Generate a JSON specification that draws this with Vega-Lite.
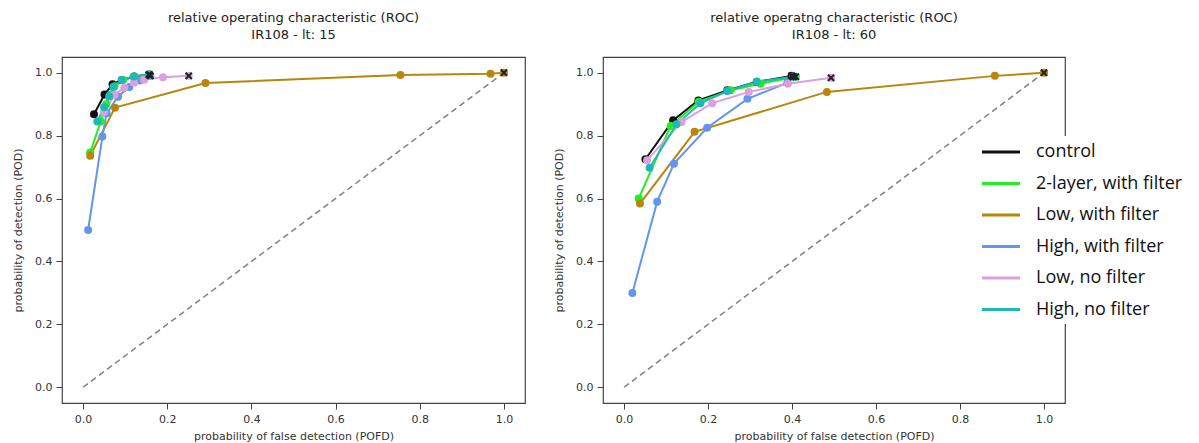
{
  "$schema": "https://vega.github.io/schema/vega-lite/v6.json",
  "padding": {"left": 11, "top": 11, "right": 0, "bottom": 0},
  "background": "white",
  "datasets": {
    "diag": [{"pofd": 0, "pod": 0}, {"pofd": 1, "pod": 1}],
    "roc": [
      {"panel": 15, "series": "control", "pofd": 0.026, "pod": 0.868, "end": false},
      {"panel": 15, "series": "control", "pofd": 0.051, "pod": 0.931, "end": false},
      {"panel": 15, "series": "control", "pofd": 0.07, "pod": 0.963, "end": false},
      {"panel": 15, "series": "control", "pofd": 0.092, "pod": 0.977, "end": false},
      {"panel": 15, "series": "control", "pofd": 0.122, "pod": 0.988, "end": false},
      {"panel": 15, "series": "control", "pofd": 0.157, "pod": 0.994, "end": true},
      {"panel": 15, "series": "2-layer, with filter", "pofd": 0.017, "pod": 0.746, "end": false},
      {"panel": 15, "series": "2-layer, with filter", "pofd": 0.042, "pod": 0.845, "end": false},
      {"panel": 15, "series": "2-layer, with filter", "pofd": 0.055, "pod": 0.9, "end": false},
      {"panel": 15, "series": "2-layer, with filter", "pofd": 0.065, "pod": 0.93, "end": false},
      {"panel": 15, "series": "2-layer, with filter", "pofd": 0.075, "pod": 0.957, "end": false},
      {"panel": 15, "series": "2-layer, with filter", "pofd": 0.095, "pod": 0.977, "end": false},
      {"panel": 15, "series": "2-layer, with filter", "pofd": 0.122, "pod": 0.988, "end": false},
      {"panel": 15, "series": "2-layer, with filter", "pofd": 0.157, "pod": 0.994, "end": true},
      {"panel": 15, "series": "Low, with filter", "pofd": 0.017, "pod": 0.736, "end": false},
      {"panel": 15, "series": "Low, with filter", "pofd": 0.076, "pod": 0.889, "end": false},
      {"panel": 15, "series": "Low, with filter", "pofd": 0.291, "pod": 0.967, "end": false},
      {"panel": 15, "series": "Low, with filter", "pofd": 0.754, "pod": 0.993, "end": false},
      {"panel": 15, "series": "Low, with filter", "pofd": 0.968, "pod": 0.997, "end": false},
      {"panel": 15, "series": "Low, with filter", "pofd": 1.0, "pod": 1.0, "end": true},
      {"panel": 15, "series": "High, with filter", "pofd": 0.012, "pod": 0.5, "end": false},
      {"panel": 15, "series": "High, with filter", "pofd": 0.046, "pod": 0.797, "end": false},
      {"panel": 15, "series": "High, with filter", "pofd": 0.056, "pod": 0.871, "end": false},
      {"panel": 15, "series": "High, with filter", "pofd": 0.083, "pod": 0.924, "end": false},
      {"panel": 15, "series": "High, with filter", "pofd": 0.11, "pod": 0.955, "end": false},
      {"panel": 15, "series": "High, with filter", "pofd": 0.135, "pod": 0.975, "end": false},
      {"panel": 15, "series": "High, with filter", "pofd": 0.16, "pod": 0.99, "end": true},
      {"panel": 15, "series": "Low, no filter", "pofd": 0.05, "pod": 0.875, "end": false},
      {"panel": 15, "series": "Low, no filter", "pofd": 0.075, "pod": 0.93, "end": false},
      {"panel": 15, "series": "Low, no filter", "pofd": 0.098, "pod": 0.952, "end": false},
      {"panel": 15, "series": "Low, no filter", "pofd": 0.121, "pod": 0.968, "end": false},
      {"panel": 15, "series": "Low, no filter", "pofd": 0.145, "pod": 0.978, "end": false},
      {"panel": 15, "series": "Low, no filter", "pofd": 0.19, "pod": 0.986, "end": false},
      {"panel": 15, "series": "Low, no filter", "pofd": 0.251, "pod": 0.99, "end": true},
      {"panel": 15, "series": "High, no filter", "pofd": 0.034, "pod": 0.845, "end": false},
      {"panel": 15, "series": "High, no filter", "pofd": 0.05, "pod": 0.89, "end": false},
      {"panel": 15, "series": "High, no filter", "pofd": 0.062, "pod": 0.925, "end": false},
      {"panel": 15, "series": "High, no filter", "pofd": 0.072, "pod": 0.955, "end": false},
      {"panel": 15, "series": "High, no filter", "pofd": 0.092, "pod": 0.977, "end": false},
      {"panel": 15, "series": "High, no filter", "pofd": 0.12, "pod": 0.988, "end": false},
      {"panel": 15, "series": "High, no filter", "pofd": 0.157, "pod": 0.994, "end": true},

      {"panel": 60, "series": "control", "pofd": 0.051, "pod": 0.725, "end": false},
      {"panel": 60, "series": "control", "pofd": 0.117, "pod": 0.849, "end": false},
      {"panel": 60, "series": "control", "pofd": 0.177, "pod": 0.912, "end": false},
      {"panel": 60, "series": "control", "pofd": 0.246, "pod": 0.944, "end": false},
      {"panel": 60, "series": "control", "pofd": 0.316, "pod": 0.971, "end": false},
      {"panel": 60, "series": "control", "pofd": 0.399, "pod": 0.99, "end": true},
      {"panel": 60, "series": "2-layer, with filter", "pofd": 0.035, "pod": 0.6, "end": false},
      {"panel": 60, "series": "2-layer, with filter", "pofd": 0.111, "pod": 0.831, "end": false},
      {"panel": 60, "series": "2-layer, with filter", "pofd": 0.178, "pod": 0.908, "end": false},
      {"panel": 60, "series": "2-layer, with filter", "pofd": 0.254, "pod": 0.944, "end": false},
      {"panel": 60, "series": "2-layer, with filter", "pofd": 0.325, "pod": 0.965, "end": false},
      {"panel": 60, "series": "2-layer, with filter", "pofd": 0.409, "pod": 0.987, "end": true},
      {"panel": 60, "series": "Low, with filter", "pofd": 0.038, "pod": 0.584, "end": false},
      {"panel": 60, "series": "Low, with filter", "pofd": 0.168, "pod": 0.812, "end": false},
      {"panel": 60, "series": "Low, with filter", "pofd": 0.483, "pod": 0.939, "end": false},
      {"panel": 60, "series": "Low, with filter", "pofd": 0.883, "pod": 0.99, "end": false},
      {"panel": 60, "series": "Low, with filter", "pofd": 1.0, "pod": 1.0, "end": true},
      {"panel": 60, "series": "High, with filter", "pofd": 0.02, "pod": 0.3, "end": false},
      {"panel": 60, "series": "High, with filter", "pofd": 0.079, "pod": 0.59, "end": false},
      {"panel": 60, "series": "High, with filter", "pofd": 0.119, "pod": 0.711, "end": false},
      {"panel": 60, "series": "High, with filter", "pofd": 0.198, "pod": 0.825, "end": false},
      {"panel": 60, "series": "High, with filter", "pofd": 0.294, "pod": 0.917, "end": false},
      {"panel": 60, "series": "High, with filter", "pofd": 0.389, "pod": 0.968, "end": false},
      {"panel": 60, "series": "High, with filter", "pofd": 0.403, "pod": 0.988, "end": true},
      {"panel": 60, "series": "Low, no filter", "pofd": 0.055, "pod": 0.722, "end": false},
      {"panel": 60, "series": "Low, no filter", "pofd": 0.137, "pod": 0.843, "end": false},
      {"panel": 60, "series": "Low, no filter", "pofd": 0.21, "pod": 0.903, "end": false},
      {"panel": 60, "series": "Low, no filter", "pofd": 0.297, "pod": 0.939, "end": false},
      {"panel": 60, "series": "Low, no filter", "pofd": 0.39, "pod": 0.965, "end": false},
      {"panel": 60, "series": "Low, no filter", "pofd": 0.493, "pod": 0.984, "end": true},
      {"panel": 60, "series": "High, no filter", "pofd": 0.061, "pod": 0.698, "end": false},
      {"panel": 60, "series": "High, no filter", "pofd": 0.125, "pod": 0.836, "end": false},
      {"panel": 60, "series": "High, no filter", "pofd": 0.182, "pod": 0.903, "end": false},
      {"panel": 60, "series": "High, no filter", "pofd": 0.246, "pod": 0.942, "end": false},
      {"panel": 60, "series": "High, no filter", "pofd": 0.316, "pod": 0.971, "end": false},
      {"panel": 60, "series": "High, no filter", "pofd": 0.403, "pod": 0.987, "end": true}
    ]
  },
  "config": {
    "font": "DejaVu Sans",
    "view": {"stroke": "#444", "strokeWidth": 1.2},
    "axis": {
      "grid": false, "domain": false, "tickColor": "#444", "tickSize": 6, "tickWidth": 1,
      "labelFont": "DejaVu Sans", "labelFontSize": 11, "labelColor": "#333", "labelPadding": 4,
      "titleFont": "DejaVu Sans", "titleFontSize": 11, "titleFontWeight": "normal", "titleColor": "#333"
    },
    "axisY": {"titlePadding": 11},
    "axisX": {"titlePadding": 6},
    "title": {"font": "DejaVu Sans", "fontSize": 13, "fontWeight": "normal", "color": "#222", "anchor": "middle", "lineHeight": 17, "offset": 15},
    "legend": {
      "orient": "none", "legendX": 923, "legendY": 79,
      "fillColor": "white", "padding": 5,
      "symbolType": "M-2,0H2", "symbolSize": 361, "symbolStrokeWidth": 3,
      "labelFont": "Open Sans", "labelFontSize": 18, "labelColor": "#111", "labelOffset": 24,
      "rowPadding": 11.5, "labelLimit": 300
    }
  },
  "resolve": {"scale": {"color": "shared"}, "legend": {"color": "shared"}},
  "hconcat": [
    {
      "width": 463, "height": 346,
      "title": {"text": ["relative operating characteristic (ROC)", "IR108 - lt: 15"]},
      "layer": [
        {
          "data": {"name": "diag"},
          "mark": {"type": "line", "color": "#808080", "strokeDash": [6, 4], "strokeWidth": 1.5},
          "encoding": {
            "x": {"field": "pofd", "type": "quantitative", "scale": {"domain": [-0.05, 1.05], "nice": false, "zero": false},
                  "axis": {"values": [0, 0.2, 0.4, 0.6, 0.8, 1.0], "format": ".1f", "title": "probability of false detection (POFD)"}},
            "y": {"field": "pod", "type": "quantitative", "scale": {"domain": [-0.05, 1.05], "nice": false, "zero": false},
                  "axis": {"values": [0, 0.2, 0.4, 0.6, 0.8, 1.0], "format": ".1f", "title": "probability of detection (POD)"}}
          }
        },
        {
          "data": {"name": "roc"},
          "transform": [{"filter": "datum.panel == 15"}],
          "mark": {"type": "line", "strokeWidth": 2},
          "encoding": {
            "x": {"field": "pofd", "type": "quantitative"},
            "y": {"field": "pod", "type": "quantitative"},
            "order": {"field": "pofd"},
            "color": {"field": "series", "type": "nominal",
              "scale": {"domain": ["control", "2-layer, with filter", "Low, with filter", "High, with filter", "Low, no filter", "High, no filter"],
                        "range": ["#111111", "#22ee22", "#b8860b", "#6495ed", "#dda0dd", "#1fb8b8"]},
              "legend": {"title": null}}
          }
        },
        {
          "data": {"name": "roc"},
          "transform": [{"filter": "datum.panel == 15"}],
          "mark": {"type": "circle", "size": 64, "opacity": 1},
          "encoding": {
            "x": {"field": "pofd", "type": "quantitative"},
            "y": {"field": "pod", "type": "quantitative"},
            "color": {"field": "series", "type": "nominal"}
          }
        },
        {
          "data": {"name": "roc"},
          "transform": [{"filter": "datum.panel == 15 && datum.end"}],
          "mark": {"type": "point", "shape": "M-1,-1L1,1M1,-1L-1,1", "size": 40, "filled": false, "stroke": "#222", "strokeWidth": 2, "opacity": 1},
          "encoding": {
            "x": {"field": "pofd", "type": "quantitative"},
            "y": {"field": "pod", "type": "quantitative"}
          }
        }
      ]
    },
    {
      "width": 462, "height": 346,
      "title": {"text": ["relative operatng characteristic (ROC)", "IR108 - lt: 60"]},
      "layer": [
        {
          "data": {"name": "diag"},
          "mark": {"type": "line", "color": "#808080", "strokeDash": [6, 4], "strokeWidth": 1.5},
          "encoding": {
            "x": {"field": "pofd", "type": "quantitative", "scale": {"domain": [-0.05, 1.05], "nice": false, "zero": false},
                  "axis": {"values": [0, 0.2, 0.4, 0.6, 0.8, 1.0], "format": ".1f", "title": "probability of false detection (POFD)"}},
            "y": {"field": "pod", "type": "quantitative", "scale": {"domain": [-0.05, 1.05], "nice": false, "zero": false},
                  "axis": {"values": [0, 0.2, 0.4, 0.6, 0.8, 1.0], "format": ".1f", "title": "probability of detection (POD)"}}
          }
        },
        {
          "data": {"name": "roc"},
          "transform": [{"filter": "datum.panel == 60"}],
          "mark": {"type": "line", "strokeWidth": 2},
          "encoding": {
            "x": {"field": "pofd", "type": "quantitative"},
            "y": {"field": "pod", "type": "quantitative"},
            "order": {"field": "pofd"},
            "color": {"field": "series", "type": "nominal"}
          }
        },
        {
          "data": {"name": "roc"},
          "transform": [{"filter": "datum.panel == 60"}],
          "mark": {"type": "circle", "size": 64, "opacity": 1},
          "encoding": {
            "x": {"field": "pofd", "type": "quantitative"},
            "y": {"field": "pod", "type": "quantitative"},
            "color": {"field": "series", "type": "nominal"}
          }
        },
        {
          "data": {"name": "roc"},
          "transform": [{"filter": "datum.panel == 60 && datum.end"}],
          "mark": {"type": "point", "shape": "M-1,-1L1,1M1,-1L-1,1", "size": 40, "filled": false, "stroke": "#222", "strokeWidth": 2, "opacity": 1},
          "encoding": {
            "x": {"field": "pofd", "type": "quantitative"},
            "y": {"field": "pod", "type": "quantitative"}
          }
        }
      ]
    }
  ],
  "spacing": 26
}
